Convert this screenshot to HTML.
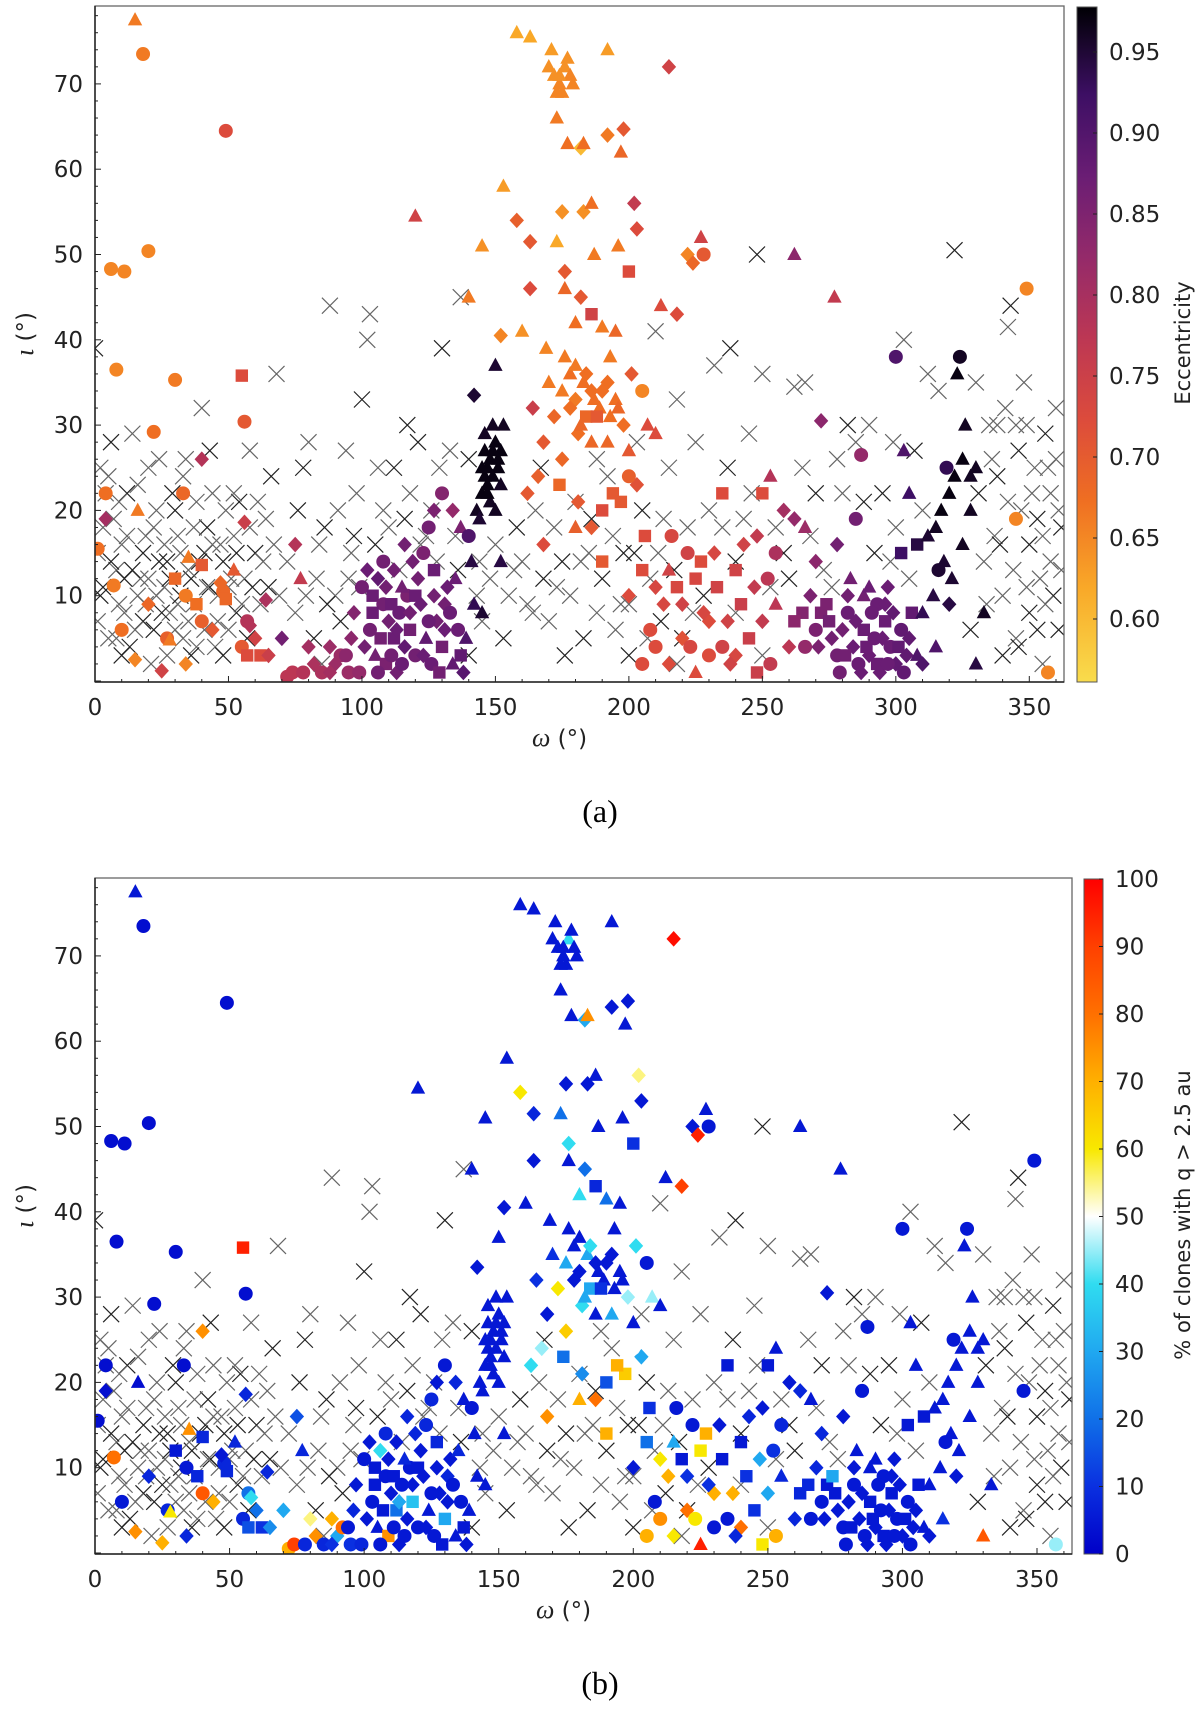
<!DOCTYPE html>
<html><head><meta charset="utf-8"><style>
html,body{margin:0;padding:0;background:#fff;}
svg{display:block;font-family:"DejaVu Sans","Liberation Sans",sans-serif;}
</style></head><body>
<svg id="fig" width="1200" height="1709" viewBox="0 0 1200 1709" xmlns="http://www.w3.org/2000/svg">
<defs>
<linearGradient id="gEcc" x1="0" y1="1" x2="0" y2="0">
<stop offset="0" stop-color="#f9dc4c"/><stop offset="0.14" stop-color="#f9a828"/><stop offset="0.27" stop-color="#ef6e22"/>
<stop offset="0.39" stop-color="#dc4b3c"/><stop offset="0.51" stop-color="#bc3754"/><stop offset="0.63" stop-color="#942a6a"/>
<stop offset="0.75" stop-color="#6a1d74"/><stop offset="0.87" stop-color="#3d0f64"/><stop offset="1" stop-color="#000004"/>
</linearGradient>
<linearGradient id="gPct" x1="0" y1="1" x2="0" y2="0">
<stop offset="0" stop-color="#0000c8"/><stop offset="0.1" stop-color="#0a30e0"/><stop offset="0.2" stop-color="#1070e8"/>
<stop offset="0.3" stop-color="#20a8f0"/><stop offset="0.4" stop-color="#30dcf0"/><stop offset="0.5" stop-color="#ffffff"/>
<stop offset="0.6" stop-color="#f8e800"/><stop offset="0.7" stop-color="#ffb000"/><stop offset="0.8" stop-color="#ff7000"/>
<stop offset="0.9" stop-color="#ff4000"/><stop offset="1" stop-color="#ff0000"/>
</linearGradient>
</defs>
<g id="panelA"></g>
<g id="panelB"></g>
<text x="600" y="822" font-family="Liberation Serif,serif" font-size="32" text-anchor="middle">(a)</text>
<text x="600" y="1694" font-family="Liberation Serif,serif" font-size="32" text-anchor="middle">(b)</text>
</svg>
<script>
// Classified objects: omega, inclination, marker, eccentricity, % clones
const omega=[15,18,49,6,11,20,8,30,55,56,22,4,1,4,16,40,33,7,34,38,48,49,40,27,28,15,25,34,55,57,62,47,40,35,56,57,58,64,70,65,72,
74,78,80,82,85,88,90,92,95,96,99,75,77,
100,102,104,106,108,110,112,114,116,118,120,122,124,126,128,130,132,134,136,138,105,109,113,117,121,103,107,111,115,119,123,127,131,135,139,142,145,141,125,130,127,134,137,
143,145,146,147,148,149,150,151,152,148,144,146,150,142,153,140,152,150,147,
158,163,170,172,174,176,178,171,175,173,177,182,183,192,192,198,197,215,120,153,145,158,163,175,183,186,173,176,187,196,203,202,200,176,182,186,180,169,195,212,222,224,218,228,227,190,193,140,152,160,163,164,
170,175,178,180,183,186,189,192,195,198,201,205,172,168,166,162,175,181,184,188,192,196,200,203,207,210,200,197,181,174,190,194,186,206,216,222,180,168,190,200,
205,210,215,220,225,230,235,240,245,250,255,210,215,220,225,230,238,248,253,260,227,232,240,243,248,252,255,250,253,258,262,266,270,272,262,277,235,
265,268,270,272,274,276,278,280,282,284,286,288,290,292,294,296,298,300,302,304,306,283,288,293,297,285,287,278,300,308,310,315,
308,312,315,317,320,322,325,318,321,314,310,323,324,326,328,330,333,319,316,305,303,302,320,325,328,330,345,349,357,
101,104,106,109,111,113,115,118,120,123,125,127,129,131,133,137,112,108,116,97,94,88,
271,275,279,281,285,287,289,291,293,295,297,299,301,303,282,290,296,305,266,262,
146,149,151,147,145,152,149,
176,180,184,187,190,193,178,182,186,174,177,173,179,
208,213,218,223,228,233,237,242,247,205,
10,20,30,44,52,60];
const incl=[77.5,73.5,64.5,48.3,48,50.4,36.5,35.3,35.8,30.4,29.2,22,15.5,19,20,26,22,11.2,10,9,10.5,9.6,7,5,4.8,2.5,1.2,2,4,3,3,11.5,13.6,14.5,18.6,7,6.5,9.5,5,3,0.5,
1,1,4,2,1,4,2,3,1,5,1,16,12,
11,13,10,12,9,7,5,8,4,6,3,9,5,2,7,4,11,2,6,1,3,2,1,10,12,6,5,3,11,14,15,13,9,12,5,9,8,14,18,22,20,20,18,
20,22,24,25,26,27,28,25,23,21,19,29,37,33.5,30,17,14,20,23,
76,75.5,72,71,70,72,71,74,69,66,63,62.5,63,74,64,64.7,62,72,54.5,58,51,54,51.5,55,55,56,51.5,48,50,51,53,56,48,46,45,43,42,39,41,44,50,49,43,50,52,41.5,38,45,40.5,41,46,32,
35,34,36,33,35,34,32,35,33,30,36,34,31,28,24,22,26,29,31,31,28,32,27,23,30,29,24,21,21,23,20,22,18,17,17,15,18,16,14,10,
13,11,13,9,12,7,4,3,5,7,9,4,2,5,1,3,2,1,2,4,14,15,13,16,17,12,15,22,24,20,19,18,14,30.5,50,45,22,
8,10,6,8,9,5,3,6,8,4,2,6,3,5,1,7,4,2,6,3,8,12,10,9,11,19,26.5,16,38,3,2,4,
16,17,18,20,22,24,26,14,12,10,8,36,38,30,24,25,8,25,13,22,27,15,9,16,20,2,19,46,1,
4,8,1,11,9,6,2,8,10,3,7,10,1,6,8,3,13,14,16,8,3,1,
4,7,1,3,7,1,4,8,2,5,2,8,4,1,10,11,9,5,4,7,
27,24,26,22,25,27,30,
38,37,36,33,34,31,32,30,28,71,73,69,70,
6,9,11,4,8,11,7,9,11,2,
6,9,12,6,13,5];
const marker=['t','o','o','o','o','o','o','o','s','o','o','o','o','d','t','d','o','o','o','s','o','s','o','o','t','d','d','d','o','s','s','d','s','t','d','o','d','d','d','d','o',
'o','o','d','d','o','d','d','o','o','d','o','d','t',
'o','d','s','d','o','d','s','o','d','s','o','d','t','o','d','s','d','t','o','d','t','s','d','o','d','o','s','o','t','d','o','s','d','t','t','t','t','t','o','o','d','d','t',
't','t','t','t','t','t','t','t','t','t','t','t','t','d','t','o','t','t','t',
't','t','t','t','t','t','t','t','t','t','t','d','t','t','d','d','t','d','t','t','t','d','d','d','d','t','t','d','t','t','d','d','s','t','d','s','t','t','t','t','d','d','d','o','t','t','t','t','d','t','d','d',
't','t','t','d','t','d','t','d','t','d','d','o','d','d','d','d','d','d','s','s','t','t','t','d','t','t','o','s','d','s','s','s','d','s','o','o','t','d','s','d',
's','d','t','d','s','d','o','d','s','d','t','o','d','d','t','o','d','s','o','d','s','d','s','d','d','o','o','s','t','d','d','t','d','d','t','t','s',
's','d','o','s','s','d','o','d','o','d','o','s','d','o','d','s','o','d','o','d','s','t','t','o','d','o','o','d','o','t','d','t',
's','t','t','t','t','t','t','t','t','t','t','t','o','t','t','t','t','o','o','t','t','s','d','t','t','t','o','o','o',
'd','s','o','d','s','d','o','d','s','d','o','d','s','d','o','s','d','o','d','d','o','d',
'd','s','o','s','d','d','s','o','s','d','o','d','s','o','d','t','d','d','o','s',
't','t','t','t','t','t','t',
't','t','d','t','d','t','d','t','t','t','t','t','t',
'o','d','s','o','d','s','d','s','d','o',
'o','d','s','d','t','d'];
const ecc=[0.66,0.66,0.72,0.65,0.65,0.65,0.65,0.66,0.72,0.70,0.67,0.67,0.67,0.80,0.66,0.78,0.68,0.66,0.66,0.67,0.68,0.68,0.69,0.69,0.66,0.65,0.74,0.65,0.70,0.72,0.72,0.68,0.70,0.66,0.75,0.78,0.78,0.79,0.86,0.75,0.77,
0.77,0.78,0.80,0.79,0.79,0.81,0.81,0.81,0.81,0.83,0.82,0.78,0.76,
0.86,0.87,0.87,0.88,0.86,0.86,0.87,0.87,0.88,0.86,0.86,0.87,0.88,0.87,0.86,0.86,0.87,0.88,0.87,0.89,0.86,0.85,0.86,0.85,0.86,0.86,0.86,0.86,0.86,0.86,0.85,0.87,0.86,0.87,0.90,0.93,0.95,0.94,0.86,0.84,0.85,0.82,0.85,
0.96,0.97,0.97,0.97,0.97,0.97,0.97,0.97,0.96,0.96,0.95,0.96,0.95,0.95,0.96,0.90,0.94,0.96,0.97,
0.62,0.62,0.64,0.64,0.65,0.64,0.65,0.63,0.65,0.66,0.67,0.60,0.67,0.63,0.66,0.70,0.68,0.74,0.74,0.63,0.64,0.69,0.70,0.64,0.64,0.67,0.62,0.70,0.66,0.66,0.72,0.76,0.72,0.68,0.70,0.74,0.67,0.65,0.68,0.72,0.65,0.68,0.72,0.70,0.74,0.66,0.66,0.66,0.65,0.64,0.72,0.75,
0.66,0.66,0.67,0.66,0.67,0.67,0.67,0.67,0.67,0.67,0.70,0.65,0.68,0.70,0.69,0.70,0.68,0.67,0.68,0.70,0.68,0.68,0.70,0.71,0.72,0.72,0.69,0.70,0.70,0.68,0.72,0.70,0.70,0.72,0.73,0.74,0.69,0.72,0.70,0.72,
0.72,0.73,0.74,0.74,0.73,0.72,0.74,0.73,0.75,0.76,0.77,0.72,0.72,0.71,0.72,0.72,0.74,0.75,0.76,0.77,0.72,0.73,0.74,0.74,0.76,0.77,0.79,0.72,0.78,0.80,0.82,0.81,0.83,0.83,0.83,0.76,0.72,
0.84,0.85,0.85,0.85,0.85,0.86,0.86,0.86,0.87,0.87,0.87,0.87,0.87,0.87,0.87,0.87,0.87,0.88,0.88,0.88,0.88,0.86,0.86,0.87,0.87,0.86,0.82,0.86,0.90,0.90,0.90,0.90,
0.94,0.95,0.96,0.97,0.97,0.97,0.97,0.95,0.95,0.94,0.93,0.97,0.96,0.96,0.96,0.96,0.96,0.93,0.95,0.92,0.90,0.92,0.94,0.96,0.96,0.94,0.65,0.65,0.65,
0.86,0.87,0.86,0.86,0.87,0.87,0.87,0.86,0.87,0.87,0.87,0.86,0.86,0.87,0.87,0.88,0.86,0.86,0.86,0.84,0.83,0.80,
0.85,0.86,0.86,0.86,0.87,0.87,0.87,0.87,0.87,0.87,0.87,0.88,0.88,0.88,0.86,0.87,0.87,0.88,0.82,0.83,
0.97,0.97,0.97,0.97,0.97,0.97,0.96,
0.66,0.66,0.67,0.67,0.67,0.67,0.67,0.68,0.68,0.64,0.64,0.65,0.65,
0.72,0.73,0.73,0.73,0.73,0.74,0.74,0.75,0.76,0.72,
0.67,0.68,0.68,0.70,0.70,0.74];
const pct=[5,3,3,3,3,3,3,3,95,3,3,3,3,3,3,75,3,80,5,8,8,8,85,8,60,75,70,8,8,15,10,5,8,75,8,20,40,8,30,25,70,
90,8,55,75,8,70,30,80,10,8,8,15,8,
5,5,5,40,5,5,20,5,5,35,5,5,5,5,5,30,5,5,5,5,5,75,5,5,5,5,5,5,8,8,8,8,8,8,5,5,5,5,8,5,5,8,5,
5,5,5,5,5,5,5,5,5,5,5,5,5,5,5,5,5,5,5,
5,5,5,5,5,40,5,5,5,5,5,30,75,5,5,5,5,98,5,5,5,60,8,5,5,5,20,40,5,5,5,55,10,5,20,8,40,5,5,5,5,95,90,5,5,20,5,5,5,5,5,10,
10,30,5,5,30,5,5,5,5,45,40,5,60,5,45,40,65,40,30,10,30,5,5,30,45,5,50,65,25,20,15,70,80,10,5,5,70,75,70,5,
20,60,30,10,60,70,5,80,10,30,8,75,60,80,95,5,8,60,70,8,70,5,5,8,5,10,8,5,5,5,8,5,8,5,5,5,5,
8,8,5,5,30,5,5,5,5,5,5,5,5,5,5,5,5,5,5,5,5,5,5,5,5,5,5,5,5,5,5,10,
5,5,5,5,5,5,5,5,5,5,5,5,5,5,5,5,5,5,5,5,5,5,5,5,5,85,5,5,45,
5,5,5,5,5,30,5,5,5,5,5,5,5,5,5,5,5,8,8,5,5,10,
5,5,5,5,5,5,5,5,5,5,5,5,5,5,5,5,5,5,5,8,
5,5,5,5,5,5,5,
5,5,40,5,5,5,5,30,5,5,5,5,5,
5,70,5,60,10,5,70,10,30,70,
5,8,5,70,8,20];
// Unclassified objects (crosses)
const crossOmega=[0,2,4,6,8,10,12,14,16,18,20,22,24,26,28,30,32,34,36,38,40,42,44,46,48,50,52,54,56,58,60,62,64,66,68,1,3,5,9,13,17,21,27,31,35,41,45,49,53,1,7,11,19,23,29,33,37,43,47,51,57,
72,75,78,80,83,86,88,90,92,95,98,100,102,103,105,108,110,112,114,118,121,124,126,130,133,137,140,143,144,140,135,128,82,85,96,117,
150,155,158,160,165,168,170,172,175,178,180,183,185,188,190,192,195,198,200,203,205,208,210,212,215,218,220,222,225,228,232,235,200,188,164,176,218,211,
238,240,245,248,250,253,258,262,266,270,273,276,282,285,290,295,299,303,307,312,316,322,330,335,338,341,342,343,345,348,350,352,354,356,358,360,362,340,345,350,355,358,361,337,347,353,360,333,328,305,300,292,280,265,237,243,250,
2,3,5,6,8,9,10,11,12,14,15,16,18,19,20,22,23,24,25,26,27,28,30,31,32,33,35,36,37,38,39,41,42,43,44,46,48,50,52,53,55,58,59,61,63,65,67,69,
76,79,84,87,91,94,97,99,106,116,122,129,136,145,148,153,157,162,167,173,182,186,194,197,202,207,213,217,224,230,240,246,255,260,268,278,288,298,310,
331,334,336,339,342,344,346,349,351,353,355,357,359,361,362,346,349,356,340,338];
const crossIncl=[39,25,22,28,13,16,22,29,10,7,25,18,14,11,8,20,15,26,12,4,32,18,22,10,14,6,17,21,12,27,15,9,19,24,36,7,11,5,9,4,12,2,14,9,7,15,4,20,8,15,19,12,17,10,22,5,18,11,16,12,5,
14,8,25,28,12,18,44,10,7,12,22,33,40,43,16,20,18,25,13,22,28,17,20,39,27,45,26,10,14,3,17,14,5,2,15,30,
16,10,18,14,20,12,7,18,14,10,21,5,15,8,12,24,6,15,9,28,20,12,41,7,25,33,5,18,28,10,37,18,3,26,8,3,2,15,
39,8,29,50,36,11,15,34.5,35,22,13,11,30,28,30,22,28,40,27,36,34,50.5,35,30,24,32,41.5,44,30,35,16,25,12,29,22,32,18,10,5,8,2,14,6,17,20,19,26,14,6,12,18,15,22,25,25,19,3,
10,18,24,14,5,21,3,8,17,13,6,23,15,9,12,6,20,26,8,16,3,12,6,17,10,24,13,3,9,21,14,6,11,27,16,7,3,11,22,15,9,18,11,21,14,11,16,10,
20,10,16,9,20,27,17,11,25,19,16,25,13,7,12,5,13,9,25,11,14,19,17,9,15,5,19,13,8,20,14,22,18,12,17,26,21,14,20,
22,9,26,16,21,13,27,11,22,6,17,25,10,20,13,4,30,9,3,30];

const NS='http://www.w3.org/2000/svg';
function mk(tag,attrs,parent){const e=document.createElementNS(NS,tag);for(const k in attrs)e.setAttribute(k,attrs[k]);parent.appendChild(e);return e;}
function lerpColor(stops,v){
  if(v<=stops[0][0])return stops[0][1];
  for(let i=1;i<stops.length;i++){if(v<=stops[i][0]){const a=stops[i-1],b=stops[i];const t=(v-a[0])/(b[0]-a[0]);
    const ca=a[1].match(/\w\w/g).map(h=>parseInt(h,16)),cb=b[1].match(/\w\w/g).map(h=>parseInt(h,16));
    return 'rgb('+ca.map((c,j)=>Math.round(c+(cb[j]-c)*t)).join(',')+')';}}
  return stops[stops.length-1][1];
}
const eccStops=[[0.561,'#f9dc4c'],[0.62,'#f9a828'],[0.67,'#ef6e22'],[0.72,'#dc4b3c'],[0.77,'#bc3754'],[0.82,'#942a6a'],[0.87,'#6a1d74'],[0.92,'#3d0f64'],[0.978,'#000004']];
const pctStops=[[0,'#0000c8'],[10,'#0a30e0'],[20,'#1070e8'],[30,'#20a8f0'],[40,'#30dcf0'],[50,'#ffffff'],[60,'#f8e800'],[70,'#ffb000'],[80,'#ff7000'],[90,'#ff4000'],[100,'#ff0000']];

function drawPanel(g,P,colorVals,stops,cb){
  const xs=w=>P.left+(P.right-P.left)*w/363;
  const ys=i=>P.y0-8.53*i;
  const clip='clip'+g.id;
  const cp=mk('clipPath',{id:clip},g);mk('rect',{x:P.left,y:P.top,width:P.right-P.left,height:P.bottom-P.top},cp);
  const area=mk('g',{'clip-path':'url(#'+clip+')'},g);
  
  
  for(let i=0;i<crossOmega.length;i++){
    const x=xs(crossOmega[i]),y=ys(crossIncl[i]),s=8;
    const c=mk('path',{d:`M${x-s},${y-s}L${x+s},${y+s}M${x-s},${y+s}L${x+s},${y-s}`,stroke:i%3?'#666':'#222',"stroke-width":1.2,fill:'none'},area);
    
    
  }
  for(let i=0;i<omega.length;i++){
    const x=xs(omega[i]),y=ys(incl[i]),col=lerpColor(stops,colorVals[i]);let e;
    if(marker[i]==='o')e=mk('circle',{cx:x,cy:y,r:7,fill:col},area);
    else if(marker[i]==='s')e=mk('rect',{x:x-6.2,y:y-6.2,width:12.4,height:12.4,fill:col},area);
    else if(marker[i]==='d')e=mk('path',{d:`M${x},${y-7.8}L${x+7.2},${y}L${x},${y+7.8}L${x-7.2},${y}Z`,fill:col},area);
    else e=mk('path',{d:`M${x},${y-7.8}L${x+7.2},${y+5.5}L${x-7.2},${y+5.5}Z`,fill:col},area);
    
    
  }
  const fr=mk('rect',{x:P.left,y:P.top,width:P.right-P.left,height:P.bottom-P.top,fill:'none',stroke:'#666','stroke-width':1.3},g);
  
  
  mk('line',{x1:P.left,y1:P.bottom,x2:P.right,y2:P.bottom,stroke:'#222','stroke-width':1.5},g);
  mk('line',{x1:P.left,y1:P.top,x2:P.left,y2:P.bottom,stroke:'#222','stroke-width':1.5},g);
  for(let w=0;w<=360;w+=10){const x=xs(w);mk('line',{x1:x,y1:P.bottom,x2:x,y2:P.bottom-(w%50?3:6),stroke:'#222'},g);
    if(w%50===0){const t=mk('text',{x:x,y:P.bottom+33,'font-size':23,'text-anchor':'middle',fill:'#222'},g);t.textContent=w;
      
      }}
  for(let v=0;v<=78;v+=2){const y=ys(v);if(y<P.top)continue;mk('line',{x1:P.left,y1:y,x2:P.left+(v%10?3:6),y2:y,stroke:'#222'},g);
    if(v%10===0&&v>0){const t=mk('text',{x:P.left-12,y:y+8,'font-size':23,'text-anchor':'end',fill:'#222'},g);t.textContent=v;
      
      }}
  const xl=mk('text',{x:(P.left+P.right)/2-20,y:P.bottom+64,'font-size':23,'text-anchor':'middle',fill:'#222'},g);
  xl.innerHTML='<tspan font-style="italic" font-family="Liberation Serif,serif" font-size="26">ω</tspan> (°)';
  
  
  const yl=mk('text',{x:0,y:0,'font-size':23,'text-anchor':'middle',fill:'#222',transform:`translate(33,${(P.top+P.bottom)/2-10}) rotate(-90)`},g);
  yl.innerHTML='<tspan font-style="italic" font-family="Liberation Serif,serif" font-size="26">ι</tspan> (°)';
  
  
  const bar=mk('rect',{x:cb.x,y:P.top+1,width:cb.w,height:P.bottom-P.top-1,fill:'url(#'+cb.grad+')',stroke:'#555','stroke-width':1},g);
  
  
  for(const v of cb.ticks){const y=cb.ys(v);mk('line',{x1:cb.x+cb.w-4,y1:y,x2:cb.x+cb.w,y2:y,stroke:'#222'},g);
    const t=mk('text',{x:cb.x+cb.w+12,y:y+8,'font-size':23,fill:'#222'},g);t.textContent=cb.fmt(v);
    
    }
  const cl=mk('text',{x:0,y:0,'font-size':21,'text-anchor':'middle',fill:'#222',transform:`translate(1190,${cb.labelY}) rotate(-90)`},g);
  cl.textContent=cb.label;
  
  
}
drawPanel(document.getElementById('panelA'),{left:95,right:1064,top:6,bottom:682,y0:681},ecc,eccStops,
  {x:1077,w:20,grad:'gEcc',ticks:[0.60,0.65,0.70,0.75,0.80,0.85,0.90,0.95],ys:v=>52+(0.95-v)*1620,fmt:v=>v.toFixed(2),label:'Eccentricity',labelY:343});
drawPanel(document.getElementById('panelB'),{left:95,right:1072,top:878,bottom:1554,y0:1553},pct,pctStops,
  {x:1084,w:19,grad:'gPct',ticks:[0,10,20,30,40,50,60,70,80,90,100],ys:v=>1554-6.75*v,fmt:v=>String(v),label:'% of clones with q > 2.5 au',labelY:1215});
</script>
</body></html>
